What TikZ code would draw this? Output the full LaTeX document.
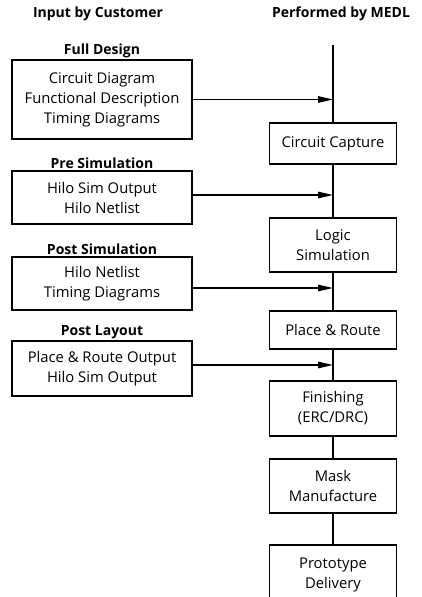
\documentclass[tikz,border=0pt]{standalone}
\usepackage{fontspec}
\setmainfont{Open Sans}
\usetikzlibrary{arrows.meta}
\tikzset{
  boxtext/.style={font=\fontsize{14.8}{20}\selectfont},
  inbox/.style={draw, line width=1.1pt, minimum width=180pt, inner sep=0pt, align=center, boxtext},
  medlbox/.style={draw, line width=1.1pt, minimum width=127pt, inner sep=0pt, align=center, boxtext},
  head/.style={font=\bfseries\fontsize{14}{14}\selectfont},
  tag/.style={font=\bfseries\fontsize{14}{14}\selectfont, anchor=south, inner sep=1.5pt},
  feed/.style={line width=1.1pt, -{Triangle[length=15pt,width=6.5pt]}}
}
\begin{document}
\begin{tikzpicture}[x=1pt, y=-1pt]
    \useasboundingbox (0,0) rectangle (421,597);
    % column headings
    \node[head] (hin) at (98,14) {Input by Customer};
    \node[head] (hout) at (341,14) {Performed by MEDL};
    % customer inputs
    \node[inbox, minimum height=79pt] (full) at (102,99.5) {Circuit Diagram\\Functional Description\\Timing Diagrams};
    \node[tag] at (full.north) {Full Design};
    \node[inbox, minimum height=53pt] (presim) at (102,197.5) {Hilo Sim Output\\Hilo Netlist};
    \node[tag] at (presim.north) {Pre Simulation};
    \node[inbox, minimum height=53pt] (postsim) at (102,283.5) {Hilo Netlist\\Timing Diagrams};
    \node[tag] at (postsim.north) {Post Simulation};
    \node[inbox, minimum height=55pt] (postlay) at (102,368.5) {Place \& Route Output\\Hilo Sim Output};
    \node[tag] at (postlay.north) {Post Layout};
    % MEDL steps
    \coordinate (top) at (333,45);
    \node[medlbox, minimum height=41pt] (cc) at (333,143.5) {Circuit Capture};
    \node[medlbox, minimum height=54pt] (ls) at (333,245) {Logic\\Simulation};
    \node[medlbox, minimum height=38pt] (pr) at (333,330) {Place \& Route};
    \node[medlbox, minimum height=55pt] (fi) at (333,408.5) {Finishing\\(ERC/DRC)};
    \node[medlbox, minimum height=54pt] (mm) at (333,486) {Mask\\Manufacture};
    \node[medlbox, minimum height=60pt] (pd) at (333,575) {Prototype\\Delivery};
    \draw[line width=1.1pt] (top) -- (cc) -- (ls) -- (pr) -- (fi) -- (mm) -- (pd);
    % inputs feed the flow
    \draw[feed] (full.east) -- (full.east -| top);
    \draw[feed] ([yshift=2.5pt]presim.east) -- ([yshift=2.5pt]presim.east -| top);
    \draw[feed] ([yshift=-4.5pt]postsim.east) -- ([yshift=-4.5pt]postsim.east -| top);
    \draw[feed] ([yshift=3.5pt]postlay.east) -- ([yshift=3.5pt]postlay.east -| top);
\end{tikzpicture}
\end{document}
